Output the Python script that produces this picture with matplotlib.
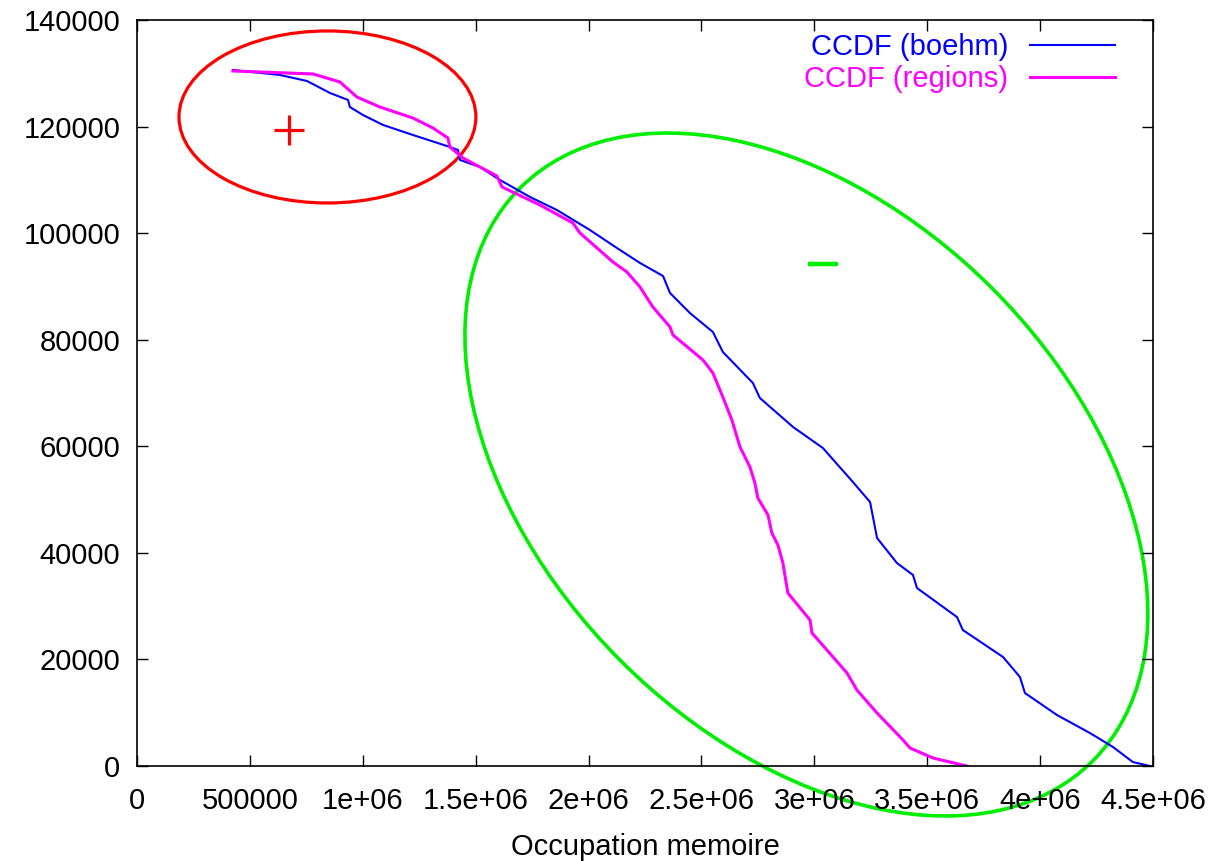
import matplotlib
matplotlib.use("Agg")
import matplotlib.pyplot as plt
from matplotlib.patches import Ellipse
from matplotlib.transforms import Affine2D
import numpy as np

# CCDF (boehm)
boehm_x = [425e3, 633e3, 753e3, 855e3, 935e3, 943e3, 1001e3, 1090e3, 1222e3, 1386e3,
           1422e3, 1431e3, 1519e3, 1608e3, 1741e3, 1860e3, 2006e3, 2126e3, 2228e3, 2330e3,
           2361e3, 2449e3, 2551e3, 2595e3, 2728e3, 2759e3, 2906e3, 3038e3, 3171e3, 3247e3,
           3278e3, 3366e3, 3437e3, 3455e3, 3632e3, 3658e3, 3836e3, 3911e3, 3933e3, 4075e3,
           4221e3, 4323e3, 4411e3, 4487e3]
boehm_y = [130620, 129680, 128550, 126300, 124990, 123670, 122170, 120300, 118420, 116170,
           115600, 113730, 112410, 109970, 106780, 104340, 100590, 97210, 94400, 91960,
           88770, 85010, 81450, 77700, 71880, 69060, 63620, 59680, 53300, 49540,
           42790, 38100, 35850, 33400, 27960, 25520, 20460, 16700, 13700, 9570,
           6190, 3570, 750, 0]

# CCDF (regions)
regions_x = [425e3, 780e3, 899e3, 974e3, 1076e3, 1222e3, 1311e3, 1377e3, 1386e3, 1444e3,
             1594e3, 1617e3, 1785e3, 1931e3, 1962e3, 2108e3, 2170e3, 2228e3, 2285e3, 2361e3,
             2374e3, 2507e3, 2551e3, 2595e3, 2635e3, 2671e3, 2715e3, 2737e3, 2750e3, 2795e3,
             2812e3, 2839e3, 2861e3, 2883e3, 2981e3, 2990e3, 3083e3, 3145e3, 3189e3, 3278e3,
             3393e3, 3424e3, 3526e3, 3676e3]
regions_y = [130430, 129870, 128370, 125550, 123670, 121610, 119730, 117860, 116170, 114100,
             110730, 108660, 105280, 101900, 100030, 94590, 92710, 89890, 86140, 82390,
             80890, 76190, 73750, 69250, 64930, 59870, 56110, 53110, 50300, 47100,
             43730, 41470, 38100, 32470, 27400, 24960, 20460, 17450, 14260, 9950,
             4880, 3380, 1500, 0]

x_ticks = [0, 500000, 1000000, 1500000, 2000000, 2500000, 3000000, 3500000, 4000000, 4500000]
x_tick_labels = ["0", "500000", "1e+06", "1.5e+06", "2e+06", "2.5e+06", "3e+06",
                 "3.5e+06", "4e+06", "4.5e+06"]
y_ticks = [0, 20000, 40000, 60000, 80000, 100000, 120000, 140000]

plt.rcParams['font.family'] = ['Liberation Sans', 'DejaVu Sans']

fig = plt.figure(figsize=(12.13, 8.61), dpi=100)
ax = fig.add_axes([0.1129, 0.1103, 0.8376, 0.8665])

ax.plot(boehm_x, boehm_y, color='#0000ff', linewidth=1.5, label='CCDF (boehm)')
ax.plot(regions_x, regions_y, color='#ff00ff', linewidth=2.2, label='CCDF (regions)')

ax.set_xlim(0, 4.5e6)
ax.set_ylim(0, 140000)

# annotations: "+" zone and "-" zone
ax.add_patch(Ellipse((843.7e3, 121800), 1315e3, 32280, fill=False,
                     edgecolor='#ff0000', linewidth=2.3, clip_on=False))
ax.plot([673e3], [119360], marker='+', color='#ff0000', markersize=21, mew=2.3)

# tilted ellipse, defined in a square (pixel-like) frame then scaled to data units
sx = 4.5e6 / 1016
sy = 140000 / 746
tilt = Affine2D().scale(sx, sy).translate(2965e3, 54706)
ax.add_patch(Ellipse((0, 0), 810, 526, angle=-45, fill=False, edgecolor='#00ee00',
                     linewidth=2.6, transform=tilt + ax.transData, clip_on=False))
ax.plot([3038e3], [94210], marker='_', color='#00ee00', markersize=22, mew=3.2)

ax.set_xticks(x_ticks)
ax.set_xticklabels(x_tick_labels)
ax.set_yticks(y_ticks)
ax.tick_params(direction='in', length=8, width=1.0, labelsize=21, top=True, right=True,
               colors='black')
ax.tick_params(axis='y', pad=12)
ax.tick_params(axis='x', pad=15)
for s in ax.spines.values():
    s.set_linewidth(1.2)

ax.set_xlabel('Occupation memoire', fontsize=21, labelpad=13)

leg = ax.legend(loc='upper right', bbox_to_anchor=(0.9626, 0.982), frameon=False,
                markerfirst=False, fontsize=21, handlelength=2.9, handletextpad=0.75,
                labelspacing=0.12, borderaxespad=0, borderpad=0, labelcolor='linecolor')
for t in leg.get_texts():
    t.set_ha('right')

fig.savefig('out.png', dpi=100)
